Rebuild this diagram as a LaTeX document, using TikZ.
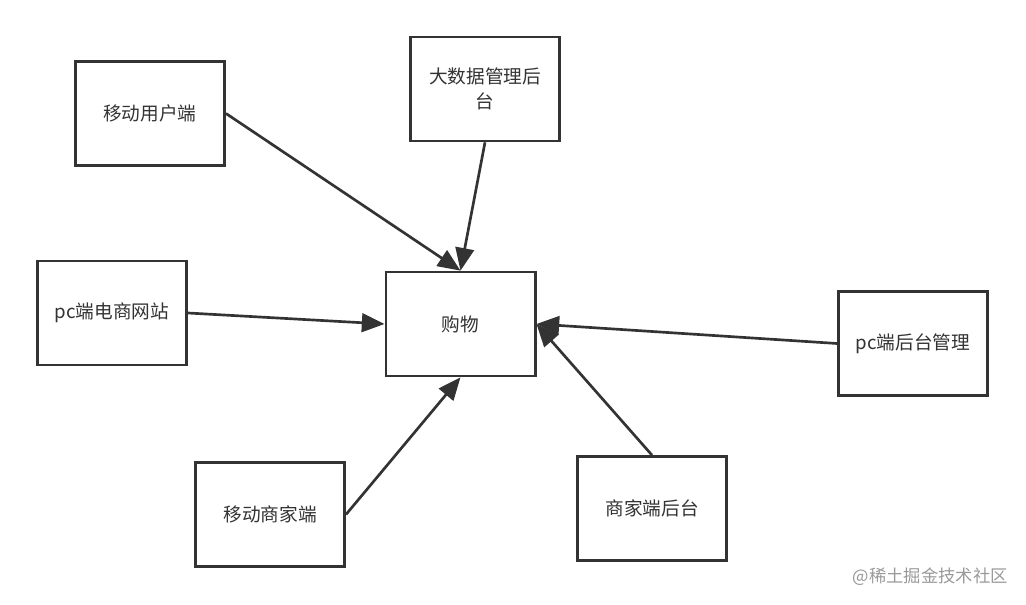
\documentclass[tikz,border=0pt]{standalone}
\usepackage{fontspec}
\setmainfont{Noto Sans CJK SC}
\usetikzlibrary{arrows.meta}
\definecolor{ink}{HTML}{333333}
\begin{document}
\begin{tikzpicture}[x=0.75pt,y=-0.75pt,
  box/.style={draw=ink,line width=2pt,fill=white,minimum width=112pt,minimum height=78pt,inner sep=0pt,align=center,font=\fontsize{14}{19}\selectfont,text=ink},
  conn/.style={draw=ink,line width=2pt,-{Triangle[length=17pt,width=14pt]}}]
\useasboundingbox (0,0) rectangle (1026,605);
\node[box] (u) at (150,113.5) {移动用户端};
\node[box] (d) at (485,89) {大数据管理后\\台};
\node[box] (p) at (112,313) {pc端电商网站};
\node[box] (g) at (460.5,324) {购物};
\node[box] (b) at (913,343.5) {pc端后台管理};
\node[box] (m) at (270,514.5) {移动商家端};
\node[box] (s) at (652,508.5) {商家端后台};
\draw[conn] (u.east) -- (g.north);
\draw[conn] (d.south) -- (g.north);
\draw[conn] (p.east) -- (g.west);
\draw[conn] (b.west) -- (g.east);
\draw[conn] (m.east) -- (g.south);
\draw[conn] (s.north) -- (g.east);
\node[text=black!40,font=\fontsize{13}{16}\selectfont,anchor=east,inner sep=0pt] (w) at (1008,577) {@稀土掘金技术社区};
\end{tikzpicture}
\end{document}
